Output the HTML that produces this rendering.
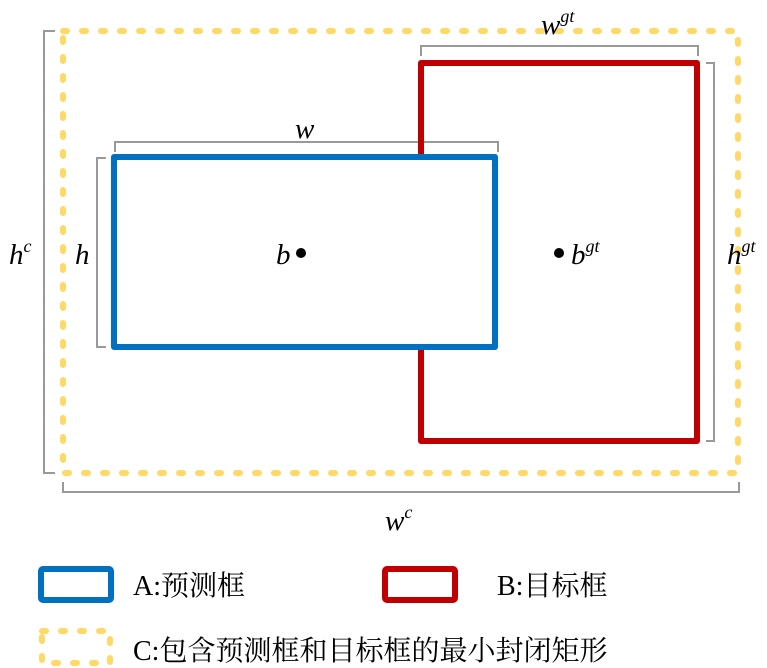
<!DOCTYPE html>
<html><head><meta charset="utf-8"><style>
html,body{margin:0;padding:0;background:#fff;}
svg{display:block;}
.m{font-family:"Liberation Serif",serif;font-style:italic;fill:#000;}
.t{font-family:"Liberation Serif","Noto Serif CJK SC",serif;font-size:28px;fill:#000;}
</style></head><body>
<svg width="767" height="668" viewBox="0 0 767 668" xmlns="http://www.w3.org/2000/svg">
<g fill="none" stroke="#999" stroke-width="2">
<polyline points="55,31 44,31 44,473 55,473"/>
<polyline points="106,158 97,158 97,347 106,347"/>
<polyline points="115,152 115,142 498,142 498,152"/>
<polyline points="421,56 421,46 698,46 698,56"/>
<polyline points="706,63 714,63 714,441 706,441"/>
<polyline points="63,482 63,492 739,492 739,482"/>
</g>
<rect x="63" y="31" width="675" height="442" fill="none" stroke="#FFD966" stroke-width="6" stroke-dasharray="4 15" stroke-linecap="round"/>
<rect x="421" y="63" width="276" height="378" fill="none" stroke="#C00000" stroke-width="6" stroke-linejoin="round"/>
<rect x="114" y="157" width="381" height="190" fill="#fff" stroke="#0070C0" stroke-width="6" stroke-linejoin="round"/>
<circle cx="301" cy="253" r="5" fill="#000"/>
<circle cx="559" cy="253" r="5" fill="#000"/>
<text class="m" x="295" y="138" font-size="29">w</text>
<text class="m" x="541" y="34" font-size="29">w<tspan font-size="18" dy="-12">gt</tspan></text>
<text class="m" x="9" y="264" font-size="29">h<tspan font-size="18" dy="-12">c</tspan></text>
<text class="m" x="75" y="264" font-size="29">h</text>
<text class="m" x="276" y="264" font-size="29">b</text>
<text class="m" x="571" y="264" font-size="29">b<tspan font-size="18" dy="-12">gt</tspan></text>
<text class="m" x="727" y="264" font-size="29">h<tspan font-size="18" dy="-12">gt</tspan></text>
<text class="m" x="385" y="530" font-size="29">w<tspan font-size="18" dy="-12">c</tspan></text>
<rect x="41" y="569" width="70" height="31" rx="2" fill="none" stroke="#0070C0" stroke-width="6"/>
<rect x="385" y="569" width="70" height="31" rx="2" fill="none" stroke="#C00000" stroke-width="6"/>
<rect x="42" y="631" width="68" height="32" fill="none" stroke="#FFD966" stroke-width="6" stroke-dasharray="4 15" stroke-linecap="round"/>
<text class="t" x="133" y="595">A:预测框</text>
<text class="t" x="497" y="595">B:目标框</text>
<text class="t" x="133" y="660">C:包含预测框和目标框的最小封闭矩形</text>
</svg>
</body></html>
